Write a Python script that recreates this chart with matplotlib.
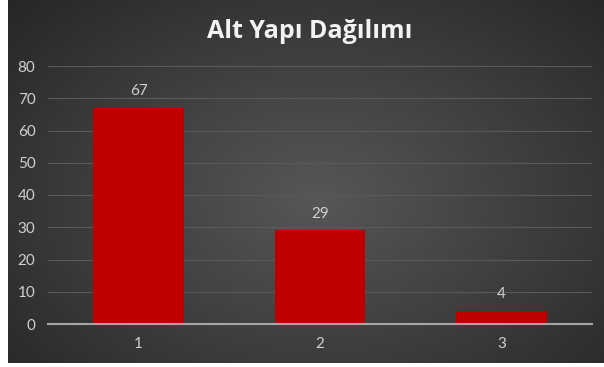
import matplotlib.pyplot as plt
import numpy as np

categories = ["1", "2", "3"]
values = [67, 29, 4]
y_ticks = [0, 10, 20, 30, 40, 50, 60, 70, 80]
title = "Alt Yapı Dağılımı"

W, H = 604, 367
fig = plt.figure(figsize=(W / 100, H / 100), dpi=100)
fig.patch.set_facecolor("white")

# dark radial background, lighter towards the middle
bg = fig.add_axes([8 / W, 4 / H, 1 - 8 / W, 1 - 4 / H])
yy, xx = np.mgrid[0:1:300j, 0:1:500j]
r = np.sqrt(((xx - 0.52) / 0.75) ** 2 + ((yy - 0.45) / 0.85) ** 2)
shade = np.clip(0.34 - 0.2 * r, 0.15, 0.34)
bg.imshow(np.dstack([shade] * 3), extent=[0, 1, 0, 1], aspect="auto", origin="lower")
bg.set_axis_off()

ax = fig.add_axes([48 / W, (H - 324) / H, 544 / W, 258 / H])
ax.patch.set_alpha(0)
x = np.arange(len(categories))
bars = ax.bar(x, values, width=0.5, color="#C00000", zorder=3)
for b, v in zip(bars, values):
    ax.text(b.get_x() + b.get_width() / 2, v + 3, str(v), ha="center", va="bottom",
            color="#d0d0d0", fontsize=11, family="Lato")

ax.set_xlim(-0.5, len(categories) - 0.5)
ax.set_ylim(0, 80)
ax.set_yticks(y_ticks)
ax.set_xticks(x)
ax.set_xticklabels(categories)
ax.grid(axis="y", color="#595959", linewidth=0.8, zorder=0)
ax.tick_params(length=0, colors="#d0d0d0", labelsize=11, pad=9)
for lbl in ax.get_xticklabels() + ax.get_yticklabels():
    lbl.set_family("Lato")
for s in ["top", "right", "left"]:
    ax.spines[s].set_visible(False)
ax.spines["bottom"].set_color("#a6a6a6")
ax.spines["bottom"].set_linewidth(1.5)
ax.spines["bottom"].set_zorder(4)

fig.text(310 / W, 1 - 31 / H, title, ha="center", va="center", color="#f2f2f2",
         fontsize=18, fontweight="bold", family="Open Sans")

fig.savefig("out.png", dpi=100, facecolor=fig.get_facecolor())
